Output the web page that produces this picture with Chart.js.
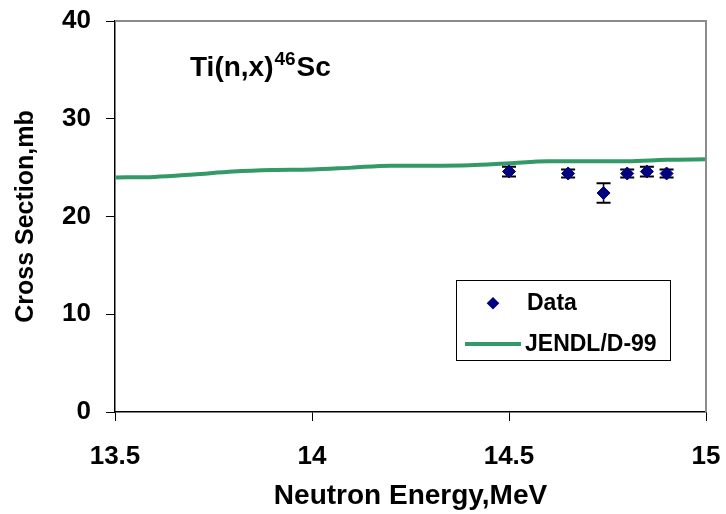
<!DOCTYPE html>
<html>
<head>
<meta charset="utf-8">
<script src="https://cdn.jsdelivr.net/npm/chart.js@4.4.1/dist/chart.umd.min.js"></script>
<style>
  html, body { margin: 0; padding: 0; background: #fff; }
  canvas { display: block; }
</style>
</head>
<body>
<canvas id="xsChart" width="726" height="514"></canvas>
<script>
// measured points
const dataEnergy = [14.5, 14.65, 14.74, 14.8, 14.85, 14.9];
const dataXs = [24.6, 24.4, 22.4, 24.4, 24.6, 24.4];
const dataErr = [0.5, 0.4, 1.0, 0.4, 0.5, 0.4];

// evaluated curve
const evalEnergy = [13.5, 13.6, 13.7, 13.8, 13.9, 14.0, 14.1, 14.2, 14.3, 14.4, 14.5, 14.6, 14.7, 14.8, 14.9, 15.0];
const evalXs = [24.0, 24.05, 24.3, 24.6, 24.75, 24.8, 25.0, 25.2, 25.2, 25.25, 25.45, 25.65, 25.65, 25.65, 25.8, 25.85];

const xTicks = [13.5, 14, 14.5, 15];
const yTicks = [0, 10, 20, 30, 40];

const FONT = '"Liberation Sans", Arial, sans-serif';
const NAVY = '#000080';
const GREEN = '#339966';

function pts(xs, ys) {
    return xs.map(function(x, i) { return { x: x, y: ys[i] }; });
}

// vertical error bars with caps, drawn under the diamonds
const errorBars = {
    id: 'errorBars',
    beforeDatasetDraw: function(chart, args) {
        if (args.index !== 0) return;
        const ctx = chart.ctx;
        const xs = chart.scales.x, ys = chart.scales.y;
        ctx.save();
        ctx.strokeStyle = '#000';
        dataEnergy.forEach(function(e, i) {
            const px = xs.getPixelForValue(e);
            const top = ys.getPixelForValue(dataXs[i] + dataErr[i]);
            const bot = ys.getPixelForValue(dataXs[i] - dataErr[i]);
            ctx.lineWidth = 1.5;
            ctx.beginPath();
            ctx.moveTo(px, top); ctx.lineTo(px, bot);
            ctx.stroke();
            ctx.lineWidth = 2;
            ctx.beginPath();
            ctx.moveTo(px - 7, top); ctx.lineTo(px + 7, top);
            ctx.moveTo(px - 7, bot); ctx.lineTo(px + 7, bot);
            ctx.stroke();
        });
        ctx.restore();
    }
};

// grey top/right frame, reaction label and boxed legend
const decorations = {
    id: 'decorations',
    afterDraw: function(chart) {
        const ctx = chart.ctx;
        const a = chart.chartArea;
        ctx.save();
        ctx.strokeStyle = '#8c8c8c';
        ctx.lineWidth = 2;
        ctx.beginPath();
        ctx.moveTo(a.left, a.top);
        ctx.lineTo(a.right, a.top);
        ctx.lineTo(a.right, a.bottom);
        ctx.stroke();

        // Ti(n,x)46Sc with superscript mass number
        ctx.fillStyle = '#000';
        ctx.textBaseline = 'alphabetic';
        ctx.textAlign = 'left';
        let x = 190;
        ctx.font = 'bold 28px ' + FONT;
        ctx.fillText('Ti(n,x)', x, 76);
        x += ctx.measureText('Ti(n,x)').width + 1;
        ctx.font = 'bold 19px ' + FONT;
        ctx.fillText('46', x, 65);
        x += ctx.measureText('46').width + 1;
        ctx.font = 'bold 28px ' + FONT;
        ctx.fillText('Sc', x, 76);

        // legend
        const ds = chart.data.datasets;
        ctx.fillStyle = '#fff';
        ctx.fillRect(457, 281, 214, 80);
        ctx.strokeStyle = '#000';
        ctx.lineWidth = 1;
        ctx.strokeRect(456.5, 280.5, 214, 80);

        ctx.fillStyle = NAVY;
        ctx.beginPath();
        ctx.moveTo(493, 297); ctx.lineTo(499.3, 303.3);
        ctx.lineTo(493, 309.6); ctx.lineTo(486.7, 303.3);
        ctx.closePath();
        ctx.fill();

        ctx.strokeStyle = GREEN;
        ctx.lineWidth = 4;
        ctx.beginPath();
        ctx.moveTo(465, 344); ctx.lineTo(521, 344);
        ctx.stroke();

        ctx.fillStyle = '#000';
        ctx.font = 'bold 23px ' + FONT;
        ctx.fillText(ds[0].label, 527, 310);
        ctx.fillText(ds[1].label, 525, 351);
        ctx.restore();
    }
};

const tickFont = { family: FONT, size: 26, weight: 'bold' };

new Chart(document.getElementById('xsChart').getContext('2d'), {
    type: 'scatter',
    data: {
        datasets: [{
            label: 'Data',
            data: pts(dataEnergy, dataXs),
            pointStyle: 'rectRot',
            pointRadius: 6.5,
            backgroundColor: NAVY,
            borderColor: NAVY,
            borderWidth: 1,
            showLine: false
        }, {
            type: 'line',
            label: 'JENDL/D-99',
            data: pts(evalEnergy, evalXs),
            borderColor: GREEN,
            borderWidth: 4,
            pointRadius: 0,
            fill: false,
            cubicInterpolationMode: 'monotone'
        }]
    },
    options: {
        responsive: false,
        animation: false,
        layout: { padding: 0 },
        plugins: {
            legend: { display: false },
            tooltip: { enabled: false }
        },
        scales: {
            x: {
                type: 'linear',
                min: 13.5,
                max: 15,
                afterBuildTicks: function(scale) {
                    scale.ticks = xTicks.map(function(v) { return { value: v }; });
                },
                afterFit: function(scale) {
                    scale.height = 102;
                    scale.paddingLeft = 0;
                    scale.paddingRight = 20;
                },
                ticks: {
                    font: tickFont, color: '#000', padding: 20,
                    callback: function(v) { return String(v); }
                },
                grid: { drawOnChartArea: false, drawTicks: true, tickLength: 9, color: '#000' },
                border: { color: '#000', width: 1.5 },
                title: {
                    display: true,
                    text: 'Neutron Energy,MeV',
                    color: '#000',
                    font: { family: FONT, size: 28, weight: 'bold' },
                    padding: { top: 0, bottom: 1 }
                }
            },
            y: {
                min: 0,
                max: 40,
                afterBuildTicks: function(scale) {
                    scale.ticks = yTicks.map(function(v) { return { value: v }; });
                },
                afterFit: function(scale) {
                    scale.width = 115;
                    scale.paddingTop = 21;
                    scale.paddingBottom = 0;
                },
                ticks: { font: tickFont, color: '#000', padding: 15 },
                grid: { drawOnChartArea: false, drawTicks: true, tickLength: 9, color: '#000' },
                border: { color: '#000', width: 1.5 },
                title: {
                    display: true,
                    text: 'Cross Section,mb',
                    color: '#000',
                    font: { family: FONT, size: 25, weight: 'bold' },
                    padding: { top: 11, bottom: 0 }
                }
            }
        }
    },
    plugins: [errorBars, decorations]
});
</script>
</body>
</html>
